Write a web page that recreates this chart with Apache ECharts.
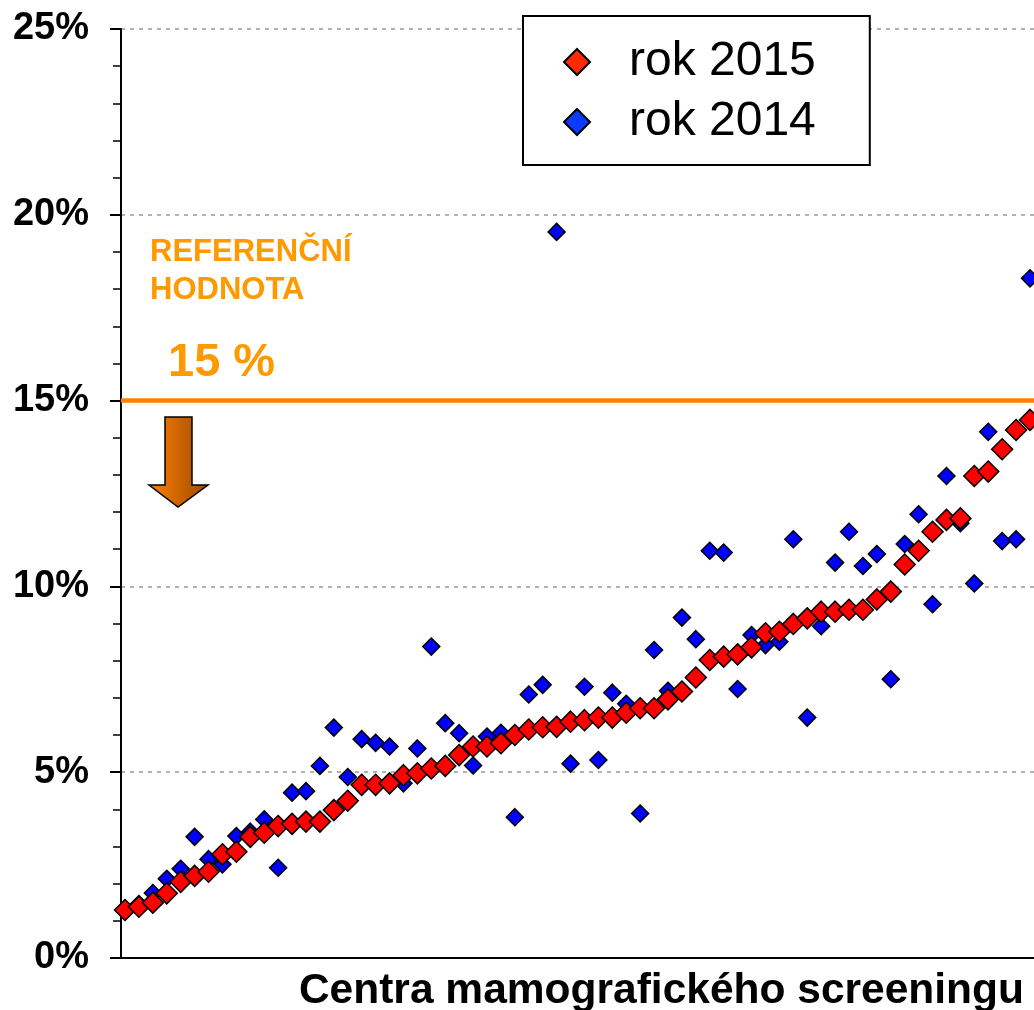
<!DOCTYPE html>
<html>
<head>
<meta charset="utf-8">
<title>Centra mamografického screeningu</title>
<script src="https://cdn.jsdelivr.net/npm/echarts@6/dist/echarts.min.js"></script>
<style>
  html, body { margin: 0; padding: 0; background: #fff; }
  #chart { width: 1034px; height: 1010px; }
</style>
</head>
<body>
<div id="chart"></div>
<script>
// poradi center (serazeno podle roku 2015)
var centra = [];
for (var i = 1; i <= 66; i++) centra.push(i);

var rok2015 = [1.29, 1.38, 1.49, 1.74, 2.05, 2.21, 2.32, 2.79, 2.86, 3.26,
  3.37, 3.55, 3.61, 3.67, 3.67, 3.98, 4.23, 4.66, 4.66, 4.70,
  4.92, 4.97, 5.10, 5.17, 5.46, 5.69, 5.69, 5.78, 6.00, 6.15,
  6.21, 6.22, 6.36, 6.40, 6.47, 6.47, 6.60, 6.72, 6.72, 6.96,
  7.17, 7.55, 8.02, 8.11, 8.17, 8.36, 8.74, 8.78, 8.99, 9.14,
  9.32, 9.32, 9.37, 9.37, 9.65, 9.86, 10.59, 10.96, 11.47, 11.79,
  11.83, 12.97, 13.09, 13.69, 14.21, 14.48];

var rok2014 = [1.25, 1.45, 1.75, 2.13, 2.40, 3.26, 2.66, 2.52, 3.28, 3.40,
  3.73, 2.43, 4.45, 4.49, 5.17, 6.20, 4.87, 5.89, 5.79, 5.69,
  4.70, 5.64, 8.38, 6.32, 6.05, 5.18, 5.96, 6.06, 3.79, 7.09,
  7.35, 19.54, 5.23, 7.30, 5.33, 7.14, 6.84, 3.89, 8.29, 7.19,
  9.16, 8.58, 10.96, 10.91, 7.24, 8.69, 8.42, 8.51, 11.27, 6.47,
  8.93, 10.64, 11.47, 10.55, 10.87, 7.50, 11.14, 11.94, 9.52, 12.97,
  11.70, 10.08, 14.16, 11.22, 11.27, 18.29];

var yTicks = [0, 5, 10, 15, 20, 25];
var referencni = 15;

var chartDom = document.getElementById('chart');
var myChart = echarts.init(chartDom);
var font = 'Liberation Sans, Arial, sans-serif';

function pary(vals) {
  return vals.map(function (v, i) { return [centra[i], v]; });
}

var option = {
  animation: false,
  backgroundColor: '#fff',
  textStyle: { fontFamily: font },
  grid: { left: 121, top: 29, right: 0, bottom: 52 },
  title: {
    text: 'Centra mamografického screeningu',
    right: 5,
    top: 965,
    textStyle: { fontFamily: font, fontSize: 42.5, fontWeight: 'bold', color: '#000' }
  },
  legend: {
    orient: 'vertical',
    left: 523,
    top: 16,
    padding: [22, 54, 19, 40],
    itemWidth: 26,
    itemHeight: 26,
    itemGap: 12,
    backgroundColor: '#fff',
    borderColor: '#000',
    borderWidth: 2,
    data: [
      { name: 'rok 2015', itemStyle: { color: '#ff2a00' } },
      { name: 'rok 2014', itemStyle: { color: '#0a3cff' } }
    ],
    textStyle: { fontFamily: font, fontSize: 48, color: '#000', padding: [0, 0, 0, 34] }
  },
  xAxis: {
    type: 'value',
    min: 0.713,
    max: 66.287,
    axisLine: { show: true, onZero: false, lineStyle: { color: '#000', width: 2 } },
    axisTick: { show: false },
    axisLabel: { show: false },
    splitLine: { show: false }
  },
  yAxis: {
    type: 'value',
    min: 0,
    max: 25,
    interval: 5,
    axisLine: { show: true, lineStyle: { color: '#000', width: 2 } },
    axisTick: { show: true, length: 11, lineStyle: { color: '#000', width: 2 } },
    minorTick: { show: true, splitNumber: 5, length: 8, lineStyle: { color: '#000', width: 1.5 } },
    axisLabel: {
      margin: 32,
      fontFamily: font,
      fontSize: 38,
      fontWeight: 'bold',
      color: '#000',
      formatter: function (v) { return yTicks.indexOf(v) >= 0 ? v + '%' : ''; }
    },
    splitLine: { show: true, lineStyle: { color: '#999', width: 1.5, type: [4, 5] } }
  },
  graphic: [
    {
      type: 'text', left: 150, top: 233,
      style: {
        text: 'REFERENČNÍ\nHODNOTA', fill: '#ff9900',
        font: 'bold 31px ' + font, lineHeight: 38
      }
    },
    {
      type: 'text', left: 168, top: 340,
      style: { text: '15 %', fill: '#ff9900', font: 'bold 47px ' + font }
    },
    {
      type: 'polygon',
      shape: {
        points: [[165, 417], [192, 417], [192, 485], [208, 485], [178, 507],
                 [149, 485], [165, 485]]
      },
      style: {
        fill: new echarts.graphic.LinearGradient(0, 0, 1, 0, [
          { offset: 0, color: '#ff7f00' },
          { offset: 1, color: '#9c4a00' }
        ]),
        stroke: '#000',
        lineWidth: 1.5
      }
    }
  ],
  series: [
    {
      name: 'rok 2014',
      type: 'scatter',
      symbol: 'diamond',
      symbolSize: 17,
      itemStyle: { color: '#0000ff', borderColor: '#000', borderWidth: 1.5, opacity: 1 },
      data: pary(rok2014),
      z: 2
    },
    {
      name: 'rok 2015',
      type: 'scatter',
      symbol: 'diamond',
      symbolSize: 21,
      itemStyle: { color: '#ff0000', borderColor: '#000', borderWidth: 1.5, opacity: 1 },
      data: pary(rok2015),
      z: 3,
      markLine: {
        silent: true,
        symbol: 'none',
        label: { show: false },
        lineStyle: { color: '#ff8000', width: 4.5, type: 'solid' },
        data: [{ yAxis: referencni }]
      }
    }
  ]
};

option && myChart.setOption(option);
</script>
</body>
</html>
